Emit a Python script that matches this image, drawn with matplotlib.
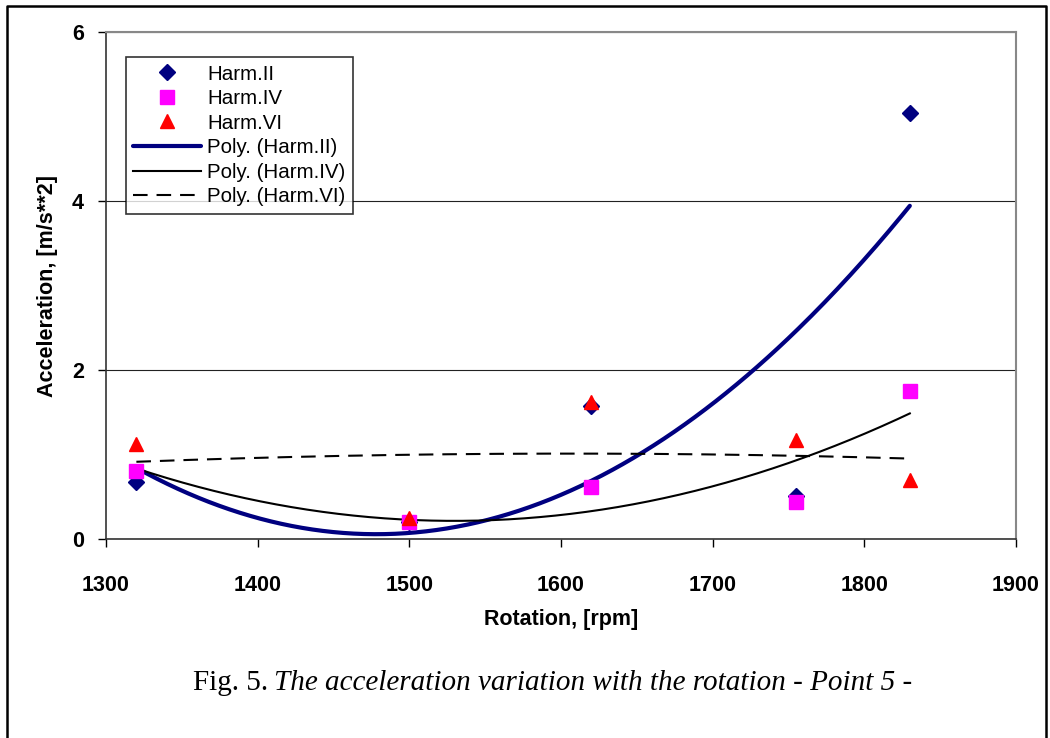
import numpy as np
import matplotlib
matplotlib.use("Agg")
import matplotlib.pyplot as plt
from matplotlib.lines import Line2D

rpm = [1320, 1500, 1620, 1755, 1830]
harm_ii = [0.68, 0.20, 1.58, 0.51, 5.04]
harm_iv = [0.81, 0.20, 0.61, 0.44, 1.75]
harm_vi = [1.12, 0.25, 1.62, 1.17, 0.70]
series_names = ["Harm.II", "Harm.IV", "Harm.VI"]
x_ticks = [1300, 1400, 1500, 1600, 1700, 1800, 1900]
y_ticks = [0, 2, 4, 6]

fig = plt.figure(figsize=(10.5, 7.38), dpi=100)
ax = fig.add_axes([0.101, 0.2696, 0.8666, 0.687])

sans = "Liberation Sans"

# trendlines (2nd order polynomial fit, as spreadsheet "Poly." trendline)
xs = np.linspace(min(rpm), max(rpm), 300)
fits = [np.polyval(np.polyfit(rpm, s, 2), xs) for s in (harm_ii, harm_iv, harm_vi)]

ax.plot(rpm, harm_ii, linestyle="none", marker="D", markersize=8.5, color="#000080", zorder=4)
ax.plot(rpm, harm_iv, linestyle="none", marker="s", markersize=9.5, color="#FF00FF", zorder=4)
ax.plot(rpm, harm_vi, linestyle="none", marker="^", markersize=10.5, color="#FF0000", zorder=4)
ax.plot(xs, fits[0], color="#000080", lw=3.0, solid_capstyle="round", zorder=3)
ax.plot(xs, fits[1], color="black", lw=1.5, zorder=3)
ax.plot(xs, fits[2], color="black", lw=1.5, dashes=(7, 4.3), zorder=3)

ax.set_xlim(1300, 1900)
ax.set_ylim(0, 6)
ax.set_xticks(x_ticks)
ax.set_yticks(y_ticks)
ax.tick_params(direction="out", length=6, width=1, colors="black", labelsize=15.5, pad=10)
for lab in ax.get_xticklabels() + ax.get_yticklabels():
    lab.set_fontfamily(sans)
    lab.set_fontweight("bold")
ax.tick_params(axis="x", pad=20)
ax.yaxis.grid(True, color="#222222", lw=0.8)
ax.set_axisbelow(True)
for side in ("top", "right"):
    ax.spines[side].set_color("#888888")
    ax.spines[side].set_linewidth(1.5)
for side in ("left", "bottom"):
    ax.spines[side].set_color("#333333")
    ax.spines[side].set_linewidth(1.2)

ax.set_xlabel("Rotation, [rpm]", fontfamily=sans, fontweight="bold", fontsize=15.5, labelpad=9)
ax.set_ylabel("Acceleration, [m/s**2]", fontfamily=sans, fontweight="bold", fontsize=15.5, labelpad=10)

handles = [
    Line2D([], [], linestyle="none", marker="D", markersize=8.5, color="#000080"),
    Line2D([], [], linestyle="none", marker="s", markersize=9.5, color="#FF00FF"),
    Line2D([], [], linestyle="none", marker="^", markersize=10.5, color="#FF0000"),
    Line2D([], [], color="#000080", lw=3.0, solid_capstyle="round"),
    Line2D([], [], color="black", lw=1.5),
    Line2D([], [], color="black", lw=1.5, dashes=(7, 4.3)),
]
labels = series_names + ["Poly. (%s)" % n for n in series_names]
leg = ax.legend(handles, labels, loc="upper left", bbox_to_anchor=(0.022, 0.95),
                prop={"family": sans, "size": 14.8}, frameon=True, fancybox=False,
                edgecolor="black", handlelength=3.3, handletextpad=0.3,
                labelspacing=0.27, borderpad=0.35, borderaxespad=0)
leg.get_frame().set_linewidth(1.2)

fig.text(268 / 1050, 0.074, "Fig. 5.", fontfamily="Liberation Serif", fontsize=21,
         ha="right", va="center")
fig.text(274 / 1050, 0.074, "The acceleration variation with the rotation - Point 5 -",
         fontfamily="Liberation Serif", fontstyle="italic", fontsize=21,
         ha="left", va="center")

# outer figure border (left, top, right)
fx0, fx1, fy1 = 7 / 1050, 1046 / 1050, 1 - 6 / 738
fig.add_artist(Line2D([fx0, fx0, fx1, fx1], [0, fy1, fy1, 0], transform=fig.transFigure,
                      color="black", lw=1.8))

fig.savefig("out.png", dpi=100)
